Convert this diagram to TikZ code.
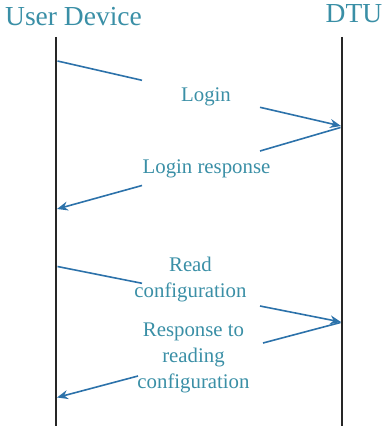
\documentclass[tikz,border=0pt]{standalone}
\usepackage{fontspec}
\setmainfont{Liberation Serif}
\newfontfamily\timesfont{Liberation Serif}
\usetikzlibrary{arrows.meta}
\definecolor{labteal}{RGB}{58,143,166}
\definecolor{arrblue}{RGB}{44,114,170}
\begin{document}
\begin{tikzpicture}[x=1pt,y=-1pt,
  lifeline/.style={line width=2.8pt,draw=black!85},
  msg/.style={line width=1.6pt,draw=arrblue},
  msgarrow/.style={msg,-{Stealth[length=11pt,width=9pt]}},
  title/.style={text=labteal,font=\timesfont\fontsize{27.5}{30}\selectfont,inner sep=0pt},
  lab/.style={text=labteal,font=\timesfont\fontsize{20.8}{26}\selectfont,align=center,inner sep=0pt}]
\useasboundingbox (0,0) rectangle (382,428);
% participants
\node[title,anchor=base] (ud) at (73.5,26) {User Device};
\node[title,anchor=base] (dtu) at (354,22.7) {DTU};
% lifelines
\coordinate (Ltop) at (56,37);
\coordinate (Lbot) at (56,426);
\coordinate (Rtop) at (342,37);
\coordinate (Rbot) at (342,426);
\draw[lifeline] (Ltop) -- (Lbot);
\draw[lifeline] (Rtop) -- (Rbot);
% message 1: Login
\coordinate (m1s) at (57.5,61);
\coordinate (m1a) at (142,80.3);
\coordinate (m1b) at (260,107.3);
\coordinate (m1e) at (341,126);
\draw[msg] (m1s) -- (m1a);
\draw[msgarrow] (m1b) -- (m1e);
\node[lab,anchor=base] (l1) at (206,101) {Login};
% message 2: Login response
\coordinate (m2s) at (340.5,127.5);
\coordinate (m2a) at (260,151);
\coordinate (m2b) at (142,185.5);
\coordinate (m2e) at (57,209);
\draw[msg] (m2s) -- (m2a);
\draw[msgarrow] (m2b) -- (m2e);
\node[lab,anchor=base] (l2) at (206.5,173) {Login response};
% message 3: Read configuration
\coordinate (m3s) at (57.5,266.5);
\coordinate (m3a) at (142,283.3);
\coordinate (m3b) at (260,306);
\coordinate (m3e) at (341,322);
\draw[msg] (m3s) -- (m3a);
\draw[msgarrow] (m3b) -- (m3e);
\node[lab] (l3) at (190.5,279.2) {Read\\configuration};
% message 4: Response to reading configuration
\coordinate (m4s) at (340.5,322.5);
\coordinate (m4a) at (263,343);
\coordinate (m4b) at (138,376);
\coordinate (m4e) at (57,397.5);
\draw[msg] (m4s) -- (m4a);
\draw[msgarrow] (m4b) -- (m4e);
\node[lab] (l4) at (193.5,357.8) {Response to\\reading\\configuration};
\end{tikzpicture}
\end{document}
